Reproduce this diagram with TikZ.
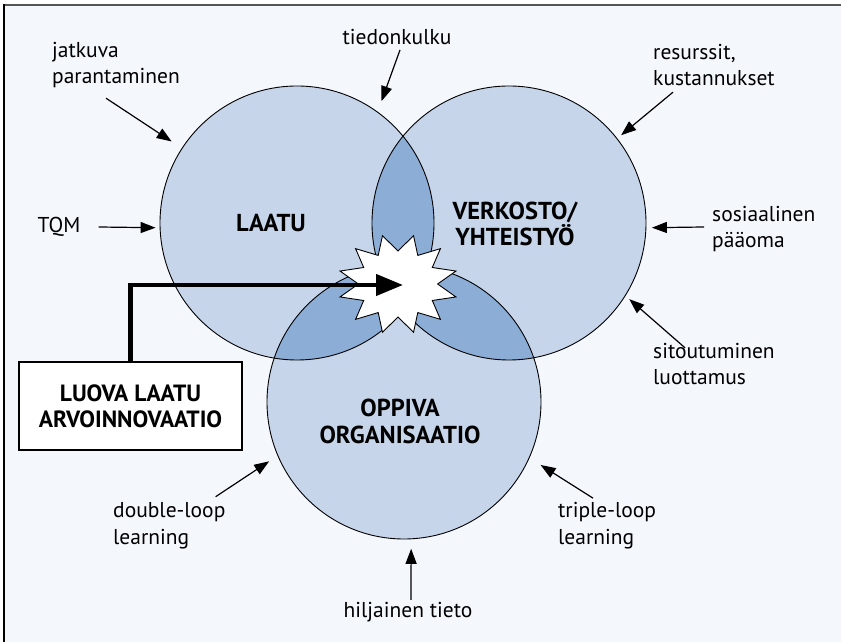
\documentclass[tikz,border=0pt]{standalone}
\usepackage{fontspec}
\setmainfont{PT Sans}
\usetikzlibrary{arrows.meta}
\definecolor{pagebg}{HTML}{F4F7FC}
\definecolor{ringfill}{HTML}{C6D5EA}
\definecolor{lensfill}{HTML}{8BADD6}
\definecolor{framegray}{HTML}{555555}
\tikzset{
  ring/.style={circle, minimum size=274pt, inner sep=0pt, outer sep=0pt},
  cue/.style={inner sep=0pt, align=left, font=\fontsize{21.5}{26.5}\selectfont},
  topic/.style={inner sep=0pt, align=center, font=\bfseries\fontsize{24.5}{26.5}\selectfont},
  pointer/.style={line width=1.2pt, -{Triangle[length=15pt,width=11pt]}},
}

\begin{document}
\begin{tikzpicture}[x=1pt,y=1pt]
\useasboundingbox (0,0) rectangle (841,642);
\fill[white] (0,0) rectangle (841,642);
\fill[pagebg] (4,0) rectangle (841,637);
\draw[framegray, line width=2.2pt] (4,637) -- (841,637);
\draw[line width=1.5pt] (4,0) -- (4,638);

% the three circles
\node[ring] (laatu) at (297,419) {};
\node[ring] (verkosto) at (509,419) {};
\node[ring] (oppiva) at (404,240) {};
\foreach \c in {laatu,verkosto,oppiva}
  \fill[ringfill] (\c.center) circle[radius=137pt];
\begin{scope}
\clip (laatu.center) circle[radius=137pt];
\fill[lensfill] (verkosto.center) circle[radius=137pt];
\fill[lensfill] (oppiva.center) circle[radius=137pt];
\end{scope}
\begin{scope}
\clip (verkosto.center) circle[radius=137pt];
\fill[lensfill] (oppiva.center) circle[radius=137pt];
\end{scope}
\foreach \c in {laatu,verkosto,oppiva}
  \draw[line width=0.9pt] (\c.center) circle[radius=137pt];

\node[topic] (laatu-text) at ([xshift=-26pt]laatu.center) {LAATU};
\node[topic] (verkosto-text) at ([xshift=6pt,yshift=-1pt]verkosto.center) {VERKOSTO/\\YHTEISTYÖ};
\node[topic] (oppiva-text) at ([xshift=-4pt,yshift=-19.5pt]oppiva.center) {OPPIVA\\ORGANISAATIO};

% star in the middle
\draw[fill=white, line width=0.9pt] plot[variable=\k, samples at={0,...,23}]
  ({398+1.2*(50-17*mod(\k,2))*cos(15+15*\k)}, {358+(50-17*mod(\k,2))*sin(15+15*\k)}) -- cycle;
\coordinate (spark) at (403,357);

\node[draw, fill=white, line width=1.3pt, minimum width=223pt, minimum height=88pt, inner sep=0pt,
  align=center, font=\bfseries\fontsize{23.5}{26}\selectfont] (creative) at (130.5,236) {LUOVA LAATU\\ARVOINNOVAATIO};
\draw[line width=4.3pt, -{Triangle[length=27pt,width=21pt]}] (creative.north) |- (spark);

% labels round the circles
\node[cue, anchor=west] (jatkuva) at (52,577) {jatkuva\\parantaminen};
\draw[pointer, shorten >=12.5pt] ([xshift=-10pt,yshift=-10pt]jatkuva.south) -- (laatu.147);
\node[cue] (tiedonkulku) at (397,605) {tiedonkulku};
\draw[pointer, shorten >=11.7pt] ([xshift=3pt,yshift=-5pt]tiedonkulku.south) -- (laatu.54);
\node[cue, anchor=west] (resurssit) at (653,577) {resurssit,\\kustannukset};
\draw[pointer, shorten >=5.4pt] ([xshift=20pt,yshift=-6pt]resurssit.south west) -- (verkosto.38);
\node[cue, anchor=west] (tqm) at (37.5,415) {TQM};
\draw[pointer, shorten >=4.5pt] ([xshift=18pt]tqm.east) -- (laatu.182);
\node[cue, anchor=west] (sosiaalinen) at (712,413) {sosiaalinen\\pääoma};
\draw[pointer, shorten >=6pt] ([xshift=-8pt,yshift=2pt]sosiaalinen.west) -- (verkosto.358);
\node[cue, anchor=west] (sitoutuminen) at (653,278) {sitoutuminen\\luottamus};
\draw[pointer, shorten >=5.4pt] ([xshift=32pt,yshift=-5pt]sitoutuminen.north west) -- (verkosto.328);
\node[cue, anchor=west] (doubleloop) at (113,116) {double-loop\\learning};
\draw[pointer, shorten >=10.5pt] ([xshift=-10pt,yshift=6pt]doubleloop.north east) -- (oppiva.203);
\node[cue, anchor=west] (tripleloop) at (558,116.5) {triple-loop\\learning};
\draw[pointer, shorten >=13.5pt] ([xshift=35pt,yshift=4pt]tripleloop.north west) -- (oppiva.336.5);
\node[cue] (hiljainen) at (408,30) {hiljainen tieto};
\draw[pointer, shorten >=10pt] ([xshift=3pt,yshift=2pt]hiljainen.north) -- (oppiva.273);
\end{tikzpicture}
\end{document}
